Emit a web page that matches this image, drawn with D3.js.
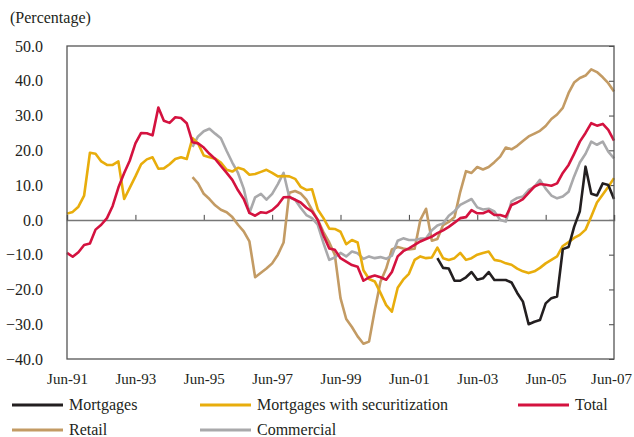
<!DOCTYPE html>
<html>
<head>
<meta charset="utf-8">
<script src="https://cdn.jsdelivr.net/npm/d3@7"></script>
<style>
  body { margin: 0; background: #fff; }
  svg text { font-family: "Liberation Serif", "DejaVu Serif", serif; fill: #231f20; }
</style>
</head>
<body>
<svg id="chart" width="634" height="437"></svg>
<script>
// every series is sampled every 2 months, starting at the month given
const stepMonths = 2;

const totalStart = "1991-06";
const totalValues = [
  -9.5, -10.6, -9.3, -7.2, -6.8, -2.8, -1.4, 0.5, 4.0, 9.3,
  13.5, 17.0, 22.0, 25.0, 24.9, 24.3, 32.3, 28.5, 27.9, 29.5,
  29.3, 27.8, 22.3, 22.0, 20.8, 19.0, 17.5, 15.5, 13.5, 11.5,
  8.5, 6.0, 2.0, 1.2, 2.2, 2.0, 2.8, 4.3, 6.5, 6.6,
  5.8, 5.0, 3.5, 2.4, 0.0, -4.5, -8.2, -8.6, -11.0, -12.0,
  -13.0, -13.5, -17.5, -16.5, -16.0, -16.5, -17.2, -15.0, -10.5, -9.0,
  -8.2, -7.2, -6.2, -5.5, -4.8, -3.8, -3.0, -2.0, -0.8, 0.5,
  0.8, 2.8, 1.9, 1.9, 2.6, 1.4, 1.4, 0.9, 4.3, 5.0,
  6.0, 7.8, 9.6, 10.3, 10.1, 9.8, 10.5, 13.5, 15.8, 19.0,
  22.5, 25.0, 27.8, 27.1, 27.6, 25.9, 22.8
];

const securStart = "1991-06";
const securValues = [
  1.8, 2.3, 3.8, 7.0, 19.3, 19.0, 16.8, 15.8, 15.8, 16.8,
  6.0, 9.2, 12.5, 16.0, 17.4, 18.0, 14.7, 14.8, 16.0, 17.5,
  18.0, 17.5, 23.5, 22.0, 18.5, 18.0, 17.6, 16.5, 14.4, 13.9,
  15.0, 14.5, 13.0, 13.2, 13.8, 14.4, 13.5, 12.5, 12.6, 12.5,
  11.8, 9.5, 8.6, 8.8, 3.0, 0.5, -2.5, -2.6, -3.4, -7.0,
  -5.8, -6.5, -14.5, -17.0, -17.7, -21.0, -24.5, -26.4, -19.5, -17.2,
  -15.5, -11.5, -10.5, -11.0, -10.8, -8.0, -11.0, -11.5, -11.0, -9.5,
  -11.5, -11.0, -10.0, -9.5, -9.1, -11.5, -11.8, -12.5, -12.9, -14.0,
  -14.8, -15.3, -14.8, -13.8, -12.5, -11.5, -10.5, -7.5, -6.4, -5.2,
  -4.3, -2.8, 1.0, 5.0, 7.3, 9.5, 12.0
];

const retailStart = "1995-02";
const retailValues = [
  12.3, 10.5, 7.5, 6.0, 4.2, 2.9, 2.2, 0.8, -1.4, -3.3,
  -6.2, -16.5, -15.2, -14.0, -12.5, -10.0, -6.5, 7.8, 8.3, 7.6,
  5.8, 2.9, 0.0, -3.5, -6.5, -10.0, -22.5, -28.5, -30.8, -33.5,
  -35.6, -35.0, -26.0, -17.8, -14.0, -8.5, -7.8, -8.2, -8.5, -8.3,
  0.0, 3.2, -6.0, -5.5, -1.5, -0.6, 0.8, 8.0, 14.0, 13.5,
  15.2, 14.5, 15.2, 16.6, 18.2, 20.8, 20.3, 21.3, 22.7, 24.0,
  24.8, 25.6, 27.0, 29.0, 30.3, 32.2, 36.5, 39.5, 40.8, 41.5,
  43.3, 42.5, 41.0, 39.3, 36.9
];

const commercialStart = "1995-02";
const commercialValues = [
  21.0, 24.0, 25.5, 26.2, 24.8, 23.5, 19.8, 16.5, 13.5, 9.0,
  2.0, 6.5, 7.5, 5.8, 7.5, 10.3, 13.5, 6.5, 5.8, 3.5,
  1.4, 0.5, -1.4, -6.7, -11.5, -10.8, -9.5, -10.5, -9.1, -9.6,
  -11.2, -10.5, -11.0, -10.7, -11.2, -10.3, -6.0, -5.3, -5.8, -5.8,
  -5.4, -5.3, -3.0, -1.6, -1.0, 1.2, 2.5, 4.3, 5.2, 6.0,
  3.6, 3.0, 3.2, 2.4, 0.0, -0.5, 5.3, 6.3, 6.7, 8.6,
  9.5, 11.5, 9.0, 7.0, 6.2, 6.7, 8.1, 12.5, 16.5, 19.0,
  22.5, 21.6, 22.5, 19.6, 17.7
];

const mortgageStart = "2002-04";
const mortgageValues = [
  -11.0, -13.8, -14.0, -17.5, -17.5, -16.5, -15.0, -17.2, -16.8, -15.0,
  -17.3, -17.3, -17.3, -18.0, -21.0, -23.5, -30.0, -29.3, -28.8, -24.0,
  -22.5, -22.0, -8.4, -7.8, -2.0, 2.5, 15.3, 7.5, 7.0, 10.5,
  10.0, 6.0
];

const yTicks = [50, 40, 30, 20, 10, 0, -10, -20, -30, -40];
const xTickYears = [1991, 1993, 1995, 1997, 1999, 2001, 2003, 2005, 2007];

const seriesList = [
  { name: "Retail", start: retailStart, values: retailValues, color: "#c39b64" },
  { name: "Commercial", start: commercialStart, values: commercialValues, color: "#a9a9ab" },
  { name: "Mortgages with securitization", start: securStart, values: securValues, color: "#e8ad0c" },
  { name: "Mortgages", start: mortgageStart, values: mortgageValues, color: "#231f20" },
  { name: "Total", start: totalStart, values: totalValues, color: "#d4123f" }
];

const legendRows = [
  ["Mortgages", "Mortgages with securitization", "Total"],
  ["Retail", "Commercial"]
];

const margin = { top: 46, right: 20, bottom: 78, left: 67 };
const width = 634, height = 437;
const fontSize = "16px";
const tickFont = "15px";

const svg = d3.select("#chart");
const parseMonth = d3.timeParse("%Y-%m");

const x = d3.scaleTime()
  .domain([new Date(1991, 5, 1), new Date(2007, 5, 1)])
  .range([margin.left, width - margin.right]);

const y = d3.scaleLinear()
  .domain([-40, 50])
  .range([height - margin.bottom, margin.top]);

// title
svg.append("text")
  .attr("x", 10)
  .attr("y", 23)
  .style("font-size", fontSize)
  .text("(Percentage)");

// y labels on the left
svg.append("g")
  .attr("transform", `translate(${margin.left},0)`)
  .call(d3.axisLeft(y).tickValues(yTicks).tickFormat(d3.format(".1f")).tickSize(0).tickPadding(24))
  .call(g => g.select(".domain").remove())
  .call(g => g.selectAll("text").style("font-size", fontSize).style("font-family", "Liberation Serif"));

// y ticks on the right, pointing in
svg.append("g")
  .attr("transform", `translate(${width - margin.right},0)`)
  .call(d3.axisRight(y).tickValues(yTicks).tickSize(-5).tickFormat(""))
  .call(g => g.select(".domain").remove())
  .call(g => g.selectAll("line").attr("stroke", "#444"));

// zero line with ticks pointing up
const xTickDates = xTickYears.map(yr => new Date(yr, 5, 1));
svg.append("g")
  .attr("transform", `translate(0,${y(0)})`)
  .call(d3.axisTop(x).tickValues(xTickDates).tickSize(5).tickFormat(""))
  .call(g => g.select(".domain").attr("stroke", "#777").attr("stroke-width", 1.5))
  .call(g => g.selectAll("line").attr("stroke", "#444"));

// x labels under the frame
svg.append("g")
  .attr("transform", `translate(0,${height - margin.bottom})`)
  .call(d3.axisBottom(x).tickValues(xTickDates).tickSize(0).tickPadding(14).tickFormat(d3.timeFormat("%b-%y")))
  .call(g => g.select(".domain").remove())
  .call(g => g.selectAll("text").style("font-size", tickFont).style("font-family", "Liberation Serif"))
  .call(g => g.selectAll("text").filter((d, i, n) => i === n.length - 1).attr("dx", -3));

const line = d3.line()
  .x(d => x(d.date))
  .y(d => y(d.value));

seriesList.forEach(s => {
  const start = parseMonth(s.start);
  const pts = s.values.map((v, i) => ({ date: d3.timeMonth.offset(start, i * stepMonths), value: v }));
  svg.append("path")
    .datum(pts)
    .attr("fill", "none")
    .attr("stroke", s.color)
    .attr("stroke-width", 2.6)
    .attr("stroke-linejoin", "round")
    .attr("d", line);
});

// frame
svg.append("rect")
  .attr("x", margin.left)
  .attr("y", margin.top)
  .attr("width", width - margin.right - margin.left)
  .attr("height", height - margin.bottom - margin.top)
  .attr("fill", "none")
  .attr("stroke", "#555")
  .attr("stroke-width", 1.3);

// legend
const colorOf = Object.fromEntries(seriesList.map(s => [s.name, s.color]));
const colX = [12, 200, 518];
legendRows.forEach((row, r) => {
  const ly = 405 + r * 25;
  row.forEach((name, c) => {
    const g = svg.append("g").attr("transform", `translate(${colX[c]},${ly})`);
    g.append("line")
      .attr("x1", 0).attr("x2", 51)
      .attr("y1", 0).attr("y2", 0)
      .attr("stroke", colorOf[name])
      .attr("stroke-width", 3);
    g.append("text")
      .attr("x", 57)
      .attr("y", 5)
      .style("font-size", fontSize)
      .text(name);
  });
});
</script>
</body>
</html>
